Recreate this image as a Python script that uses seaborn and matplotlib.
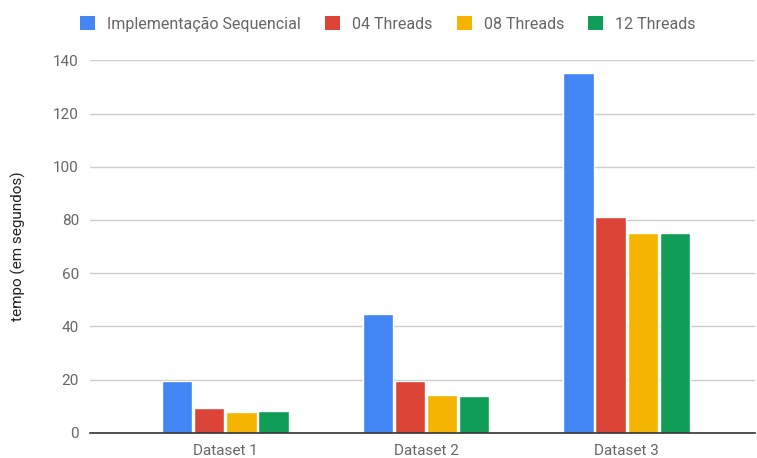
import matplotlib
matplotlib.use('Agg')
import matplotlib.pyplot as plt
import seaborn as sns
import pandas as pd
from matplotlib.patches import Patch

categories = ['Dataset 1', 'Dataset 2', 'Dataset 3']
series = ['Implementação Sequencial', '04 Threads', '08 Threads', '12 Threads']
seq_vals = [19.3, 44.5, 135.4]
t04_vals = [9.3, 19.3, 81.1]
t08_vals = [7.7, 14.3, 75.0]
t12_vals = [8.3, 13.8, 75.0]
colors = ['#4285F4', '#DB4437', '#F4B400', '#0F9D58']
yticks = [0, 20, 40, 60, 80, 100, 120, 140]

rows = []
for s, vals in zip(series, [seq_vals, t04_vals, t08_vals, t12_vals]):
    for c, v in zip(categories, vals):
        rows.append({'cat': c, 'series': s, 'val': v})
df = pd.DataFrame(rows)

sns.set_theme(style='white')
plt.rcParams['font.family'] = ['Roboto', 'DejaVu Sans']

fig = plt.figure(figsize=(7.57, 4.58), dpi=100)
ax = fig.add_axes([90/757, 25.3/458, 665/757, 372.4/458])
sns.barplot(data=df, x='cat', y='val', hue='series', hue_order=series,
            palette=colors, width=0.64, gap=0.06, saturation=1,
            ax=ax, legend=False, errorbar=None)

ax.set_xlim(-0.675, 2.64)
ax.set_ylim(0, 140)
ax.set_yticks(yticks)
ax.set_yticklabels([str(t) for t in yticks])
ax.yaxis.grid(True, color='#cccccc', linewidth=1)
ax.set_axisbelow(True)
for sp in ['left', 'right', 'top']:
    ax.spines[sp].set_visible(False)
ax.spines['bottom'].set_color('#333333')
ax.spines['bottom'].set_linewidth(1.2)
ax.tick_params(axis='both', length=0, labelsize=11, labelcolor='#666666')
ax.tick_params(axis='y', pad=8)
ax.tick_params(axis='x', pad=8)
ax.set_xlabel('')
ax.set_ylabel('')
fig.text(18/757, 1 - 246/458, 'tempo (em segundos)', rotation=90,
         ha='center', va='center', fontsize=11, color='#222222')

handles = [Patch(facecolor=c, edgecolor='none') for c in colors]
fig.legend(handles, series, loc='center', bbox_to_anchor=(388/757, 1 - 24/458),
           ncol=4, frameon=False, fontsize=11.5, labelcolor='#666666',
           handlelength=0.95, handleheight=0.95, handletextpad=0.75, columnspacing=1.5)

fig.savefig('out.png', dpi=100)
